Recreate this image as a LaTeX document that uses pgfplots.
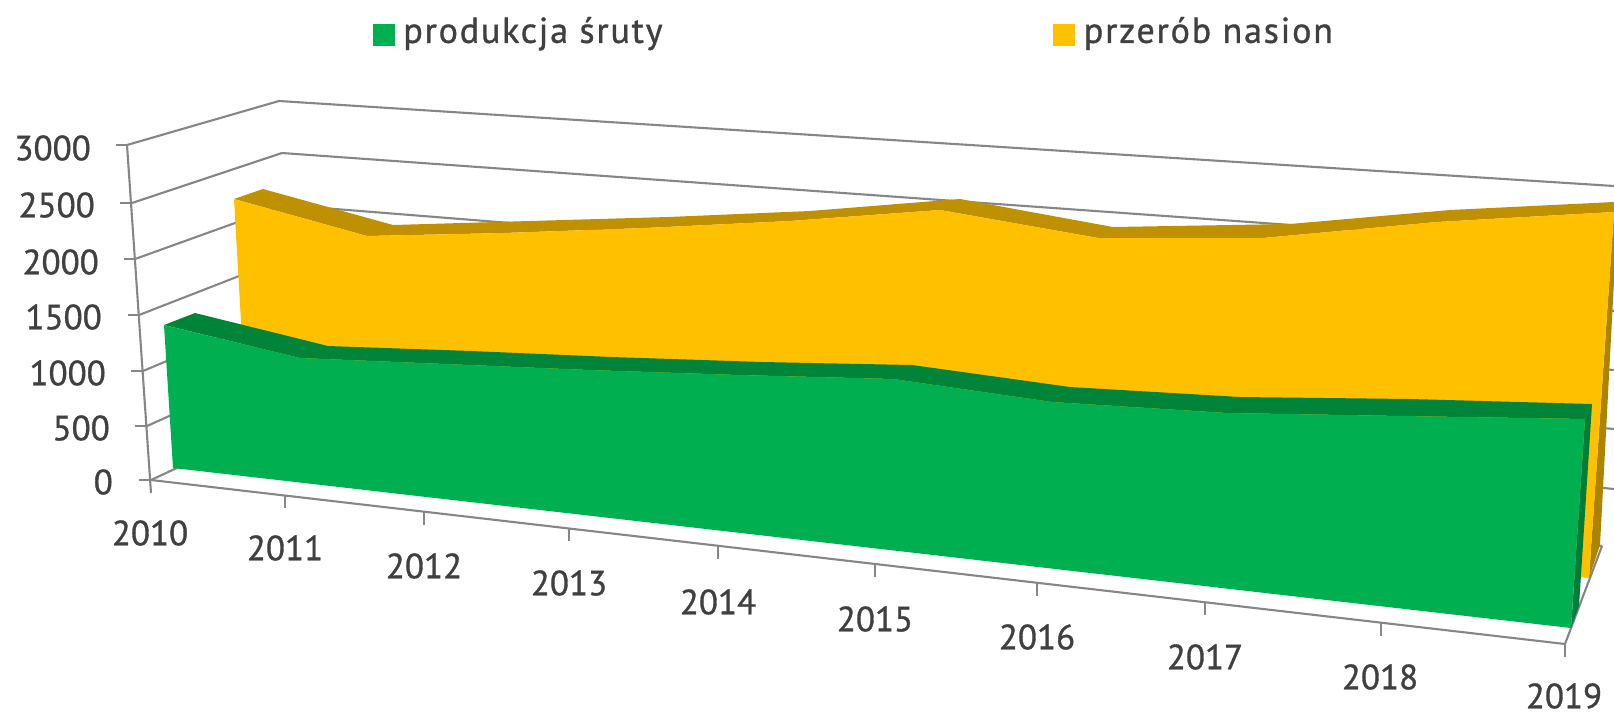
\documentclass[border=0pt]{standalone}
\usepackage{pgfplots}
\usepackage{fontspec}
\pgfplotsset{compat=1.18}
\setmainfont[FakeBold=1]{PT Sans}
\newfontfamily\legfont[LetterSpace=5,FakeBold=1]{PT Sans}
\definecolor{txt}{HTML}{404040}
\definecolor{axgray}{HTML}{868686}
\definecolor{yel}{HTML}{FFC000}
\definecolor{yeltop}{HTML}{BF9000}
\definecolor{yelside}{HTML}{AD8300}
\definecolor{grn}{HTML}{00B050}
\definecolor{grntop}{HTML}{008439}
\definecolor{grnside}{HTML}{007D3A}
\newcommand{\seg}[4]{\addplot[axgray,line width=2.1pt] coordinates {(#1,#2) (#3,#4)};}
\newcommand{\lab}[3]{\node[txt,inner sep=0pt,font=\fontsize{35}{40}\selectfont] at (axis cs:#1,#2) {#3};}
\newcommand{\ylab}[3]{\node[txt,anchor=east,inner sep=0pt,font=\fontsize{35}{40}\selectfont] at (axis cs:#1,#2) {#3};}
\begin{document}
\begin{tikzpicture}
% 3D perspective chart: everything is traced in reference pixels (y runs down)
\begin{axis}[
    name=ax,
    scale only axis,
    width=1614pt, height=713pt,
    xmin=0, xmax=1614, ymin=0, ymax=713,
    y dir=reverse,
    hide axis,
    legend columns=4,
    legend image code/.code={\fill[#1] (0pt,-2pt) rectangle (21pt,19pt);},
    legend style={at={(axis cs:373,31)}, anchor=west, draw=none, fill=none, inner sep=0pt, outer sep=0pt,
        nodes={inner sep=0pt, anchor=base west, text=txt, font=\legfont\fontsize{36}{41}\selectfont},
        /tikz/every even column/.append style={column sep=391pt},
        /tikz/every odd column/.append style={column sep=9pt}},
]
\addlegendimage{grn}
\addlegendentry{produkcja śruty}
\addlegendimage{yel}
\addlegendentry{przerób nasion}

% back wall gridlines, 3000 down to 0
\seg{279}{101}{1614}{186}
\seg{282}{153}{1614}{248}
\seg{285}{205}{1614}{311}
\seg{288}{257}{1614}{370}
\seg{291}{309}{1614}{429}
\seg{294}{360}{1614}{489}
\seg{297}{412}{1602}{546}
% side wall
\seg{127}{145}{279}{101}
\seg{132}{203}{282}{153}
\seg{135}{259}{285}{205}
\seg{139}{315}{288}{257}
\seg{143}{371}{291}{309}
\seg{147}{426}{294}{360}
\seg{151}{480}{297}{412}
% value axis and ticks
\seg{127}{145}{151}{493}
\seg{116}{145}{127}{145}
\seg{120}{203}{132}{203}
\seg{124}{259}{135}{259}
\seg{128}{315}{139}{315}
\seg{131}{371}{143}{371}
\seg{135}{426}{147}{426}
\seg{139}{480}{151}{480}
% floor
\seg{151}{480}{1565}{644}
\seg{1565}{644}{1602}{546}
\seg{285}{495}{285}{508}
\seg{424}{512}{424}{525}
\seg{569}{528}{569}{541}
\seg{718}{546}{718}{559}
\seg{875}{564}{875}{577}
\seg{1037}{583}{1037}{596}
\seg{1205}{602}{1205}{615}
\seg{1381}{623}{1381}{636}
\seg{1565}{644}{1565}{657}

% przerob nasion
\addplot[fill=yeltop,draw=none] coordinates {
    (234,199) (263,189) (393,225) (530,221) (668,217) (810,211) (960,199) (1113,227) (1290,224) (1450,210) (1614,202)
    (1614,212) (1437,222) (1263,238) (1098,238) (940,210) (790,221) (645,228) (504,233) (367,236)} -- cycle;
\addplot[fill=yelside,draw=none] coordinates {(1614,212) (1614,281) (1600,545) (1589,578)} -- cycle;
\addplot[fill=yel,draw=none] coordinates {
    (234,199) (367,236) (504,233) (645,228) (790,221) (940,210) (1098,238) (1263,238) (1437,222) (1614,212)
    (1589,578) (248,444)} -- cycle;

% produkcja sruty
\addplot[fill=grntop,draw=none] coordinates {
    (164,325) (195,313) (328,346) (471,351) (612,357) (762,362) (912,365) (1070,387) (1240,397) (1410,399) (1592,404)
    (1585,419) (1402,416) (1227,413) (1052,402) (893,379) (739,375) (589,370) (445,364) (300,358)} -- cycle;
\addplot[fill=grnside,draw=none] coordinates {(1585,419) (1592,404) (1579,606) (1571,628)} -- cycle;
\addplot[fill=grn,draw=none] coordinates {
    (164,325) (300,358) (445,364) (589,370) (739,375) (893,379) (1052,402) (1227,413) (1402,416) (1585,419)
    (1571,628) (173,468)} -- cycle;

% value labels
\ylab{91}{148}{3000}
\ylab{95}{205}{2500}
\ylab{99}{262}{2000}
\ylab{102}{317}{1500}
\ylab{106}{373}{1000}
\ylab{110}{428}{500}
\ylab{113}{482}{0}
% year labels
\lab{150}{533}{2010}
\lab{285}{548}{2011}
\lab{424}{566}{2012}
\lab{569}{583}{2013}
\lab{718}{602}{2014}
\lab{875}{619}{2015}
\lab{1037}{637}{2016}
\lab{1205}{657}{2017}
\lab{1380}{677}{2018}
\lab{1564}{696}{2019}
\end{axis}
\pgfresetboundingbox
\path[use as bounding box] (ax.south west) rectangle (ax.north east);
\end{tikzpicture}
\end{document}
